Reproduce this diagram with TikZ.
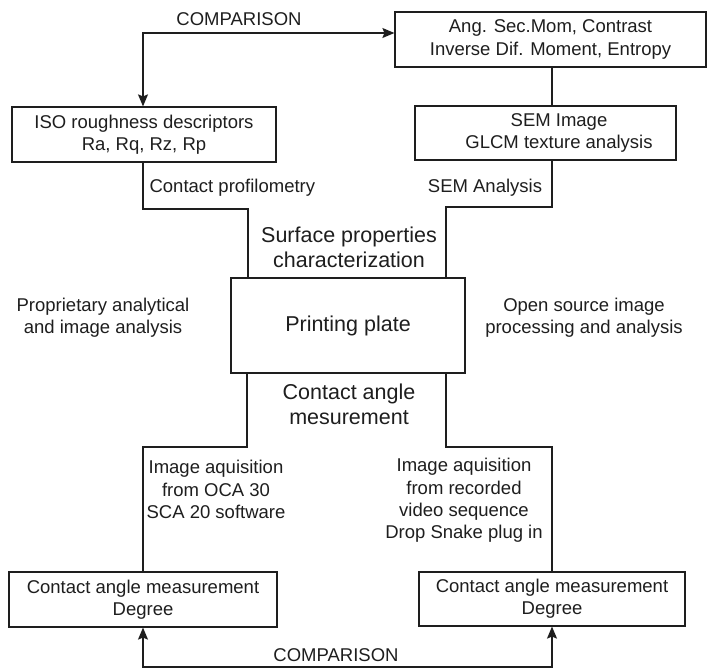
\documentclass[tikz,border=0pt]{standalone}
\usepackage{fontspec}
\setmainfont{Liberation Sans}
\usetikzlibrary{arrows.meta}
\definecolor{ink}{HTML}{1E1E1E}
\begin{document}
\begin{tikzpicture}[x=1pt,y=-1pt,
  line width=1.2pt, draw=ink,
  box/.style={draw=ink, line width=1.2pt, inner sep=0pt, align=center, text=ink,
    font=\fontsize{18.5}{22.3}\selectfont},
  txt/.style={inner sep=0pt, align=center, text=ink, font=\fontsize{18.5}{22.3}\selectfont},
  bigtxt/.style={inner sep=0pt, align=center, text=ink, font=\fontsize{21.5}{25}\selectfont},
  arr/.style={-{Stealth[length=12pt,width=10pt,inset=2pt]}},
  dblarr/.style={{Stealth[length=12pt,width=10pt,inset=2pt]}-{Stealth[length=12pt,width=10pt,inset=2pt]}}]
\useasboundingbox (0,0) rectangle (707,668);
\fill[white] (0,0) rectangle (707,668);

% boxes
\node[box, minimum width=311pt, minimum height=55pt] (tbox) at (550.5,39.5) {Ang. Sec.Mom, Contrast\\Inverse Dif. Moment, Entropy};
\node[box, minimum width=264pt, minimum height=55pt] (iso) at (144,134.5) {ISO roughness descriptors\\Ra, Rq, Rz, Rp};
\node[box, minimum width=261pt, minimum height=54pt] (sem) at (545.5,133) {};
\node[txt] (semtxt) at (559,133) {SEM Image\\GLCM texture analysis};
\node[box, minimum width=234pt, minimum height=95pt, font=\fontsize{21.5}{25}\selectfont] (pp) at (348,325.5) {Printing plate};
\node[box, minimum width=268pt, minimum height=55pt] (bl) at (143,599.5) {Contact angle measurement\\Degree};
\node[box, minimum width=266pt, minimum height=54pt] (br) at (552,599) {Contact angle measurement\\Degree};

% coordinates for bends
\coordinate (lA) at (143,209);
\coordinate (lB) at (248,209);
\coordinate (rA) at (552,207);
\coordinate (rB) at (446,207);
\coordinate (dL) at (247,447);
\coordinate (dL2) at (143,447);
\coordinate (dR) at (446,447);
\coordinate (dR2) at (552,447);
\coordinate (bot) at (143,667);

% connectors
\draw[dblarr] (iso.north -| 143,0) |- ([yshift=6.5pt]tbox.west);
\draw (tbox.south -| 552,0) -- (sem.north -| 552,0);
\draw (iso.south -| lA) -- (lA) -- (lB) -- (pp.north -| lB);
\draw (sem.south -| rA) -- (rA) -- (rB) -- (pp.north -| rB);
\draw (pp.south -| dL) -- (dL) -- (dL2) -- (bl.north -| dL2);
\draw (pp.south -| dR) -- (dR) -- (dR2) -- (br.north -| dR2);
\draw[dblarr] (bl.south -| bot) -- (bot) -| (br.south);

% labels
\node[txt] (comp1) at (239,19) {COMPARISON};
\node[txt] (comp2) at (336,655) {COMPARISON};
\node[txt, anchor=west] (prof) at (149,188) {Contact profilometry};
\node[txt] (semana) at (485,188) {SEM Analysis};
\node[bigtxt] (surf) at (349,247.5) {Surface properties\\characterization};
\node[bigtxt] (cam) at (349,404.5) {Contact angle\\mesurement};
\node[txt] (prop) at (103,318) {Proprietary analytical\\and image analysis};
\node[txt] (open) at (584,318) {Open source image\\processing and analysis};
\node[txt] (imgl) at (216,489.5) {Image aquisition\\from OCA 30\\SCA 20 software};
\node[txt] (imgr) at (464,500.5) {Image aquisition\\from recorded\\video sequence\\Drop Snake plug in};
\end{tikzpicture}
\end{document}
